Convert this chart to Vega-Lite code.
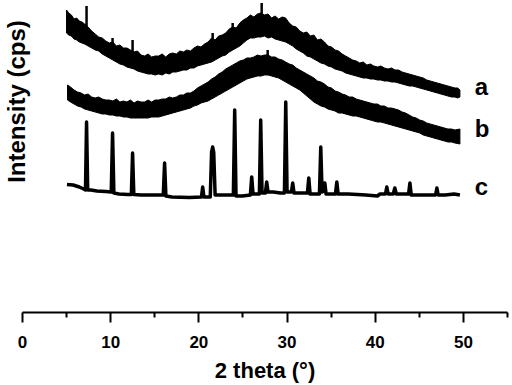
{
  "$schema": "https://vega.github.io/schema/vega-lite/v6.json",
  "width": 485,
  "height": 312,
  "autosize": {"type": "none"},
  "padding": {"left": 22, "top": 0, "right": 5, "bottom": 73},
  "background": "white",
  "config": {"view": {"stroke": null}, "font": "Liberation Sans"},
  "datasets": {
    "a": [
      {"t":5.05,"y":302,"y2":279},{"t":5.3,"y":299,"y2":277},{"t":5.6,"y":297,"y2":276},{"t":5.9,"y":293,"y2":273},
      {"t":6.2,"y":294,"y2":272},{"t":6.5,"y":291,"y2":270},{"t":6.8,"y":290,"y2":269},{"t":7.1,"y":288,"y2":268},
      {"t":7.5,"y":285,"y2":266},{"t":7.9,"y":281,"y2":264},{"t":8.3,"y":278,"y2":262},{"t":8.7,"y":275,"y2":261},
      {"t":9.1,"y":274,"y2":258},{"t":9.5,"y":271,"y2":256},{"t":9.9,"y":269,"y2":254},{"t":10.3,"y":270,"y2":252},
      {"t":10.7,"y":266,"y2":250},{"t":11.1,"y":267,"y2":248},{"t":11.5,"y":264,"y2":247},{"t":11.9,"y":264,"y2":245},
      {"t":12.3,"y":262,"y2":244},{"t":12.7,"y":260,"y2":243},{"t":13.1,"y":261,"y2":241},{"t":13.5,"y":257,"y2":240},
      {"t":13.9,"y":256,"y2":239},{"t":14.3,"y":258,"y2":238},{"t":14.7,"y":255,"y2":238},{"t":15.1,"y":256,"y2":237},
      {"t":15.5,"y":256,"y2":238},{"t":15.9,"y":258,"y2":237},{"t":16.3,"y":255,"y2":239},{"t":16.7,"y":258,"y2":238},
      {"t":17.1,"y":259,"y2":240},{"t":17.5,"y":258,"y2":240},{"t":17.9,"y":261,"y2":241},{"t":18.3,"y":260,"y2":242},
      {"t":18.7,"y":262,"y2":242},{"t":19.1,"y":261,"y2":244},{"t":19.5,"y":264,"y2":244},{"t":19.9,"y":266,"y2":246},
      {"t":20.3,"y":265,"y2":247},{"t":20.7,"y":268,"y2":248},{"t":21.1,"y":270,"y2":249},{"t":21.5,"y":274,"y2":250},
      {"t":21.9,"y":272,"y2":252},{"t":22.3,"y":276,"y2":254},{"t":22.7,"y":277,"y2":256},{"t":23.1,"y":279,"y2":257},
      {"t":23.5,"y":283,"y2":260},{"t":23.9,"y":285,"y2":262},{"t":24.3,"y":284,"y2":264},{"t":24.7,"y":289,"y2":266},
      {"t":25.1,"y":292,"y2":269},{"t":25.5,"y":294,"y2":272},{"t":25.9,"y":297,"y2":274},{"t":26.3,"y":295,"y2":274},
      {"t":26.7,"y":298,"y2":275},{"t":27.1,"y":299,"y2":275},{"t":27.5,"y":297,"y2":276},{"t":27.9,"y":298,"y2":274},
      {"t":28.3,"y":294,"y2":275},{"t":28.7,"y":296,"y2":273},{"t":29.1,"y":293,"y2":272},{"t":29.5,"y":295,"y2":271},
      {"t":29.9,"y":294,"y2":270},{"t":30.3,"y":289,"y2":268},{"t":30.7,"y":286,"y2":266},{"t":31.1,"y":285,"y2":263},
      {"t":31.5,"y":281,"y2":261},{"t":31.9,"y":279,"y2":259},{"t":32.3,"y":280,"y2":256},{"t":32.7,"y":276,"y2":255},
      {"t":33.1,"y":277,"y2":253},{"t":33.5,"y":272,"y2":251},{"t":33.9,"y":273,"y2":249},{"t":34.3,"y":270,"y2":248},
      {"t":34.7,"y":266,"y2":246},{"t":35.1,"y":265,"y2":245},{"t":35.5,"y":262,"y2":243},{"t":35.9,"y":261,"y2":242},
      {"t":36.3,"y":258,"y2":241},{"t":36.7,"y":256,"y2":239},{"t":37.1,"y":254,"y2":238},{"t":37.5,"y":252,"y2":237},
      {"t":37.9,"y":251,"y2":236},{"t":38.3,"y":249,"y2":235},{"t":38.7,"y":250,"y2":234},{"t":39.1,"y":247,"y2":234},
      {"t":39.5,"y":248,"y2":233},{"t":39.9,"y":246,"y2":233},{"t":40.3,"y":245,"y2":232},{"t":40.7,"y":246,"y2":232},
      {"t":41.1,"y":244,"y2":231},{"t":41.5,"y":243,"y2":231},{"t":41.9,"y":244,"y2":230},{"t":42.3,"y":242,"y2":230},
      {"t":42.7,"y":242,"y2":229},{"t":43.1,"y":240,"y2":228},{"t":43.5,"y":239,"y2":227},{"t":43.9,"y":238,"y2":226},
      {"t":44.3,"y":237,"y2":226},{"t":44.7,"y":236,"y2":225},{"t":45.1,"y":235,"y2":224},{"t":45.5,"y":234,"y2":223},
      {"t":45.9,"y":232,"y2":222},{"t":46.3,"y":231,"y2":221},{"t":46.7,"y":230,"y2":220},{"t":47.1,"y":229,"y2":219},
      {"t":47.5,"y":228,"y2":218},{"t":47.9,"y":227,"y2":217},{"t":48.3,"y":226,"y2":216},{"t":48.7,"y":225,"y2":215},
      {"t":49.1,"y":224,"y2":215},{"t":49.4,"y":224,"y2":214},{"t":49.66,"y":222,"y2":215}
    ],
    "b": [
      {"t":5.16,"y":227,"y2":212},{"t":5.5,"y":225,"y2":210},{"t":5.9,"y":222,"y2":208},{"t":6.3,"y":220,"y2":206},
      {"t":6.7,"y":219,"y2":205},{"t":7.1,"y":217,"y2":203},{"t":7.5,"y":218,"y2":202},{"t":7.9,"y":215,"y2":201},
      {"t":8.3,"y":214,"y2":200},{"t":8.7,"y":215,"y2":199},{"t":9.1,"y":213,"y2":198},{"t":9.5,"y":212,"y2":198},
      {"t":9.9,"y":212,"y2":197},{"t":10.3,"y":211,"y2":197},{"t":10.7,"y":213,"y2":196},{"t":11.1,"y":210,"y2":196},
      {"t":11.5,"y":211,"y2":195},{"t":11.9,"y":210,"y2":195},{"t":12.3,"y":212,"y2":194},{"t":12.7,"y":209,"y2":194},
      {"t":13.1,"y":211,"y2":194},{"t":13.5,"y":210,"y2":194},{"t":13.9,"y":210,"y2":194},{"t":14.3,"y":212,"y2":194},
      {"t":14.7,"y":210,"y2":195},{"t":15.1,"y":212,"y2":195},{"t":15.5,"y":212,"y2":195},{"t":15.9,"y":213,"y2":196},
      {"t":16.3,"y":213,"y2":197},{"t":16.7,"y":215,"y2":198},{"t":17.1,"y":214,"y2":199},{"t":17.5,"y":215,"y2":200},
      {"t":17.9,"y":217,"y2":201},{"t":18.3,"y":217,"y2":202},{"t":18.7,"y":219,"y2":203},{"t":19.1,"y":219,"y2":204},
      {"t":19.5,"y":221,"y2":206},{"t":19.9,"y":224,"y2":207},{"t":20.3,"y":226,"y2":209},{"t":20.7,"y":228,"y2":210},
      {"t":21.1,"y":230,"y2":211},{"t":21.5,"y":233,"y2":213},{"t":21.9,"y":235,"y2":215},{"t":22.3,"y":238,"y2":217},
      {"t":22.7,"y":240,"y2":219},{"t":23.1,"y":243,"y2":221},{"t":23.5,"y":245,"y2":223},{"t":23.9,"y":247,"y2":225},
      {"t":24.3,"y":249,"y2":227},{"t":24.7,"y":251,"y2":229},{"t":25.1,"y":252,"y2":231},{"t":25.5,"y":254,"y2":233},
      {"t":25.9,"y":254,"y2":234},{"t":26.3,"y":255,"y2":235},{"t":26.7,"y":257,"y2":236},{"t":27.1,"y":256,"y2":236},
      {"t":27.5,"y":257,"y2":237},{"t":27.9,"y":257,"y2":237},{"t":28.3,"y":255,"y2":236},{"t":28.7,"y":255,"y2":235},
      {"t":29.1,"y":253,"y2":234},{"t":29.5,"y":252,"y2":232},{"t":29.9,"y":250,"y2":230},{"t":30.3,"y":248,"y2":228},
      {"t":30.7,"y":247,"y2":226},{"t":31.1,"y":244,"y2":224},{"t":31.5,"y":242,"y2":222},{"t":31.9,"y":240,"y2":219},
      {"t":32.3,"y":238,"y2":216},{"t":32.7,"y":236,"y2":213},{"t":33.1,"y":234,"y2":210},{"t":33.5,"y":231,"y2":208},
      {"t":33.9,"y":230,"y2":206},{"t":34.3,"y":228,"y2":205},{"t":34.7,"y":225,"y2":203},{"t":35.1,"y":224,"y2":202},
      {"t":35.5,"y":221,"y2":201},{"t":35.9,"y":220,"y2":199},{"t":36.3,"y":218,"y2":199},{"t":36.7,"y":217,"y2":198},
      {"t":37.1,"y":215,"y2":197},{"t":37.5,"y":215,"y2":196},{"t":37.9,"y":213,"y2":196},{"t":38.3,"y":212,"y2":195},
      {"t":38.7,"y":211,"y2":194},{"t":39.1,"y":210,"y2":193},{"t":39.5,"y":209,"y2":192},{"t":39.9,"y":208,"y2":191},
      {"t":40.3,"y":208,"y2":190},{"t":40.7,"y":206,"y2":190},{"t":41.1,"y":206,"y2":189},{"t":41.5,"y":204,"y2":188},
      {"t":41.9,"y":204,"y2":187},{"t":42.3,"y":203,"y2":186},{"t":42.7,"y":202,"y2":185},{"t":43.1,"y":200,"y2":184},
      {"t":43.5,"y":199,"y2":183},{"t":43.9,"y":197,"y2":182},{"t":44.3,"y":195,"y2":181},{"t":44.7,"y":194,"y2":180},
      {"t":45.1,"y":192,"y2":179},{"t":45.5,"y":191,"y2":177},{"t":45.9,"y":189,"y2":176},{"t":46.3,"y":188,"y2":175},
      {"t":46.7,"y":187,"y2":174},{"t":47.1,"y":186,"y2":173},{"t":47.5,"y":185,"y2":172},{"t":47.9,"y":184,"y2":171},
      {"t":48.3,"y":183,"y2":170},{"t":48.7,"y":183,"y2":170},{"t":49.1,"y":182,"y2":169},{"t":49.66,"y":183,"y2":168}
    ],
    "c": [
      {"t":5.1,"y":127.5},{"t":5.8,"y":127},{"t":6.5,"y":125},{"t":7.0,"y":123},{"t":7.2,"y":122},{"t":7.32,"y":190},{"t":7.45,"y":122},
      {"t":7.8,"y":122},{"t":8.5,"y":121},{"t":9.5,"y":120.5},{"t":10.12,"y":120},{"t":10.27,"y":179},{"t":10.42,"y":119},
      {"t":11.0,"y":118},{"t":12.0,"y":117.5},{"t":12.4,"y":117.5},{"t":12.54,"y":159},{"t":12.68,"y":117.5},
      {"t":13.5,"y":117},{"t":15.0,"y":117},{"t":16.02,"y":117},{"t":16.17,"y":149},{"t":16.32,"y":116},
      {"t":17.0,"y":115},{"t":19.0,"y":114.5},{"t":20.35,"y":115},{"t":20.49,"y":125},{"t":20.63,"y":115},
      {"t":21.35,"y":115},{"t":21.5,"y":160},{"t":21.62,"y":165},{"t":21.74,"y":160},{"t":21.9,"y":117},
      {"t":22.5,"y":117},{"t":23.5,"y":117},{"t":23.97,"y":117},{"t":24.12,"y":202},{"t":24.27,"y":116},
      {"t":25.0,"y":116},{"t":25.9,"y":117},{"t":26.05,"y":135},{"t":26.2,"y":118},{"t":26.92,"y":118},{"t":27.07,"y":192},{"t":27.22,"y":119},
      {"t":27.6,"y":119},{"t":27.75,"y":130},{"t":27.9,"y":120},{"t":28.5,"y":120},{"t":29.3,"y":119},
      {"t":29.76,"y":119},{"t":29.91,"y":210},{"t":30.06,"y":120},{"t":30.55,"y":120},{"t":30.7,"y":129},{"t":30.85,"y":119},
      {"t":31.5,"y":119},{"t":32.37,"y":119},{"t":32.52,"y":134},{"t":32.67,"y":118},{"t":33.2,"y":118},
      {"t":33.73,"y":118},{"t":33.88,"y":165},{"t":34.03,"y":120},{"t":34.2,"y":121},{"t":34.34,"y":129},{"t":34.48,"y":118},
      {"t":35.0,"y":118},{"t":35.55,"y":118},{"t":35.7,"y":130},{"t":35.85,"y":118},{"t":37.0,"y":118},{"t":39.0,"y":117},
      {"t":40.3,"y":116},{"t":40.6,"y":118},{"t":41.22,"y":118},{"t":41.37,"y":125},{"t":41.52,"y":118},
      {"t":42.1,"y":118},{"t":42.28,"y":124},{"t":42.45,"y":118},{"t":43.0,"y":118},{"t":43.84,"y":118},{"t":43.99,"y":129},{"t":44.14,"y":117},
      {"t":45.0,"y":117},{"t":46.3,"y":117},{"t":46.9,"y":117},{"t":47.05,"y":124},{"t":47.2,"y":117},{"t":48.0,"y":117},
      {"t":49.0,"y":118},{"t":49.66,"y":117}
    ],
    "spikes": [
      {"t":7.32,"y":306,"y2":285},{"t":10.27,"y":274,"y2":265},{"t":12.54,"y":272,"y2":258},
      {"t":27.18,"y":309,"y2":295},{"t":21.62,"y":279,"y2":270},{"t":23.89,"y":289,"y2":280},
      {"t":27.86,"y":262,"y2":254}
    ],
    "labels": [
      {"t":51.35,"y":217,"label":"a"},{"t":51.35,"y":175,"label":"b"},{"t":51.35,"y":117,"label":"c"}
    ]
  },
  "encoding": {
    "x": {
      "field": "t", "type": "quantitative",
      "scale": {"domain": [0, 55], "nice": false, "zero": false},
      "axis": {
        "values": [0, 5, 10, 15, 20, 25, 30, 35, 40, 45, 50, 55],
        "labelExpr": "datum.value % 10 === 0 ? datum.label : ''",
        "tickSize": {"condition": {"test": "datum.value % 10 === 0", "value": 10}, "value": 5},
        "domainWidth": 2, "domainColor": "black", "tickWidth": 2, "tickColor": "black",
        "labelFont": "Liberation Sans", "labelFontWeight": "bold", "labelFontSize": 17, "labelColor": "black",
        "labelPadding": 12, "labelFlush": false, "labelOverlap": false,
        "title": "2 theta (°)", "titleFont": "Liberation Sans", "titleFontSize": 22, "titleFontWeight": "bold",
        "titleColor": "black", "titlePadding": 10, "grid": false
      }
    },
    "y": {
      "field": "y", "type": "quantitative",
      "scale": {"domain": [0, 312], "nice": false},
      "axis": {
        "title": "Intensity (cps)", "domain": false, "ticks": false, "labels": false, "grid": false,
        "titleFont": "Liberation Sans", "titleFontSize": 24, "titleFontWeight": "bold", "titleColor": "black",
        "titleAngle": -90, "titleX": 2, "titleY": 101, "titleAlign": "center", "titleBaseline": "alphabetic"
      }
    }
  },
  "layer": [
    {"data": {"name": "a"}, "mark": {"type": "area", "color": "black", "stroke": "black", "strokeWidth": 1}, "encoding": {"y2": {"field": "y2"}}},
    {"data": {"name": "b"}, "mark": {"type": "area", "color": "black", "stroke": "black", "strokeWidth": 1}, "encoding": {"y2": {"field": "y2"}}},
    {"data": {"name": "c"}, "mark": {"type": "line", "color": "black", "strokeWidth": 3.5, "strokeJoin": "round"}},
    {"data": {"name": "spikes"}, "mark": {"type": "rule", "color": "black", "strokeWidth": 2.5}, "encoding": {"y2": {"field": "y2"}}},
    {"data": {"name": "labels"}, "mark": {"type": "text", "align": "left", "baseline": "alphabetic", "fontSize": 24, "fontWeight": "bold", "font": "Liberation Sans", "color": "black"}, "encoding": {"text": {"field": "label"}}}
  ]
}
